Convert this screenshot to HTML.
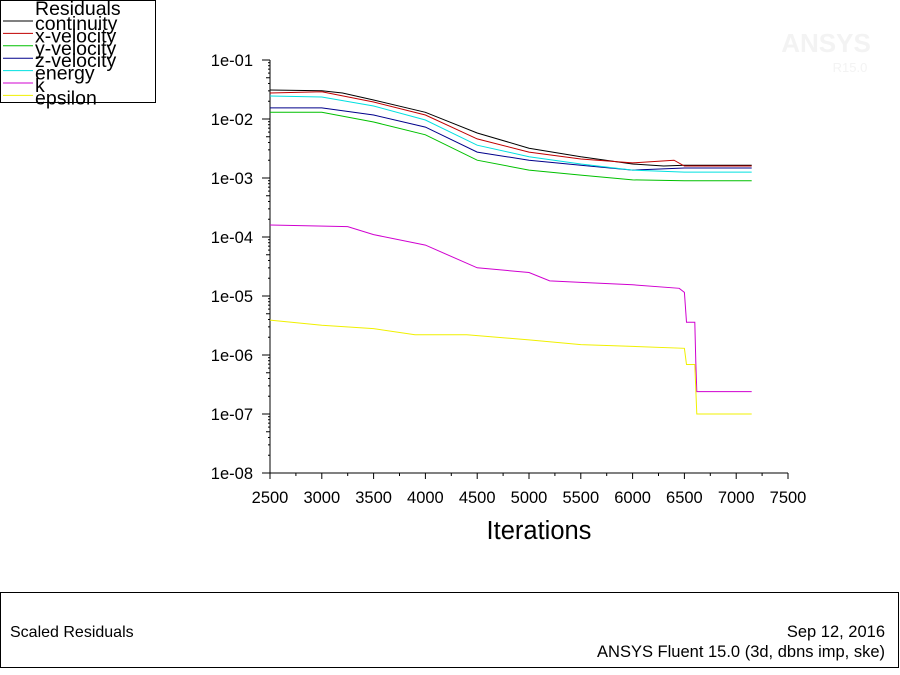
<!DOCTYPE html>
<html><head><meta charset="utf-8"><style>
body{margin:0;background:#fff;font-family:"Liberation Sans",Arial,sans-serif;}
svg{display:block}
</style></head><body>
<svg width="900" height="675" viewBox="0 0 900 675" font-family="Liberation Sans, Arial, sans-serif">
<rect x="0.5" y="0.5" width="155" height="102" fill="#fff" stroke="#000"/>
<g id="legend"></g>
<text x="826" y="52" font-size="26" fill="#f3f3f3" text-anchor="middle" font-weight="bold">ANSYS</text>
<text x="850" y="72" font-size="13" fill="#f3f3f3" text-anchor="middle">R15.0</text>
<g id="axes"></g>
<g id="series"></g>
<text x="539" y="539" font-size="25.5" text-anchor="middle">Iterations</text>
<rect x="0.5" y="592.5" width="898" height="75" fill="none" stroke="#000"/>
<text x="10" y="637" font-size="16">Scaled Residuals</text>
<text x="885" y="637" font-size="16.5" text-anchor="end">Sep 12, 2016</text>
<text x="885" y="657" font-size="16.5" text-anchor="end">ANSYS Fluent 15.0 (3d, dbns imp, ske)</text>
</svg>
<script>
const NS="http://www.w3.org/2000/svg";
const xTicks=[2500,3000,3500,4000,4500,5000,5500,6000,6500,7000,7500];
const yTickExps=[-1,-2,-3,-4,-5,-6,-7,-8];
const yTickLabels=["1e-01","1e-02","1e-03","1e-04","1e-05","1e-06","1e-07","1e-08"];
const seriesNames=["continuity","x-velocity","y-velocity","z-velocity","energy","k","epsilon"];
const seriesColors=["#000000","#c00000","#00c000","#00008b","#00e0e0","#d000d0","#f0f000"];
const itContinuity=[2500,3000,3200,3500,4000,4500,5000,5500,6000,6300,6500,7150];
const valContinuity=[3.1e-2,3.0e-2,2.76e-2,2.1e-2,1.3e-2,5.8e-3,3.2e-3,2.3e-3,1.73e-3,1.6e-3,1.65e-3,1.65e-3];
const itX=[2500,3000,3500,4000,4500,5000,5500,6000,6400,6500,7150];
const valX=[2.76e-2,2.9e-2,1.94e-2,1.17e-2,4.6e-3,2.75e-3,2.1e-3,1.8e-3,2.0e-3,1.6e-3,1.6e-3];
const itY=[2500,3000,3500,4000,4500,5000,5500,6000,6500,7150];
const valY=[1.3e-2,1.3e-2,8.9e-3,5.4e-3,2.0e-3,1.36e-3,1.12e-3,9.3e-4,9.0e-4,9.0e-4];
const itZ=[2500,3000,3500,4000,4500,5000,5500,6000,6500,7150];
const valZ=[1.54e-2,1.54e-2,1.17e-2,7.3e-3,2.75e-3,2.0e-3,1.65e-3,1.36e-3,1.48e-3,1.48e-3];
const itEnergy=[2500,3000,3500,4000,4500,5000,5500,6000,6500,7150];
const valEnergy=[2.45e-2,2.36e-2,1.66e-2,9.6e-3,3.6e-3,2.3e-3,1.73e-3,1.36e-3,1.26e-3,1.26e-3];
const itK=[2500,3250,3500,4000,4500,5000,5200,5500,6000,6450,6500,6520,6600,6610,6620,7150];
const valK=[1.6e-4,1.5e-4,1.1e-4,7.3e-5,3.0e-5,2.5e-5,1.8e-5,1.7e-5,1.55e-5,1.35e-5,1.15e-5,3.6e-6,3.6e-6,7.6e-7,2.4e-7,2.4e-7];
const itEps=[2500,3000,3500,3900,4400,5000,5500,6000,6500,6520,6600,6620,7150];
const valEps=[3.9e-6,3.2e-6,2.8e-6,2.2e-6,2.2e-6,1.8e-6,1.5e-6,1.4e-6,1.3e-6,6.9e-7,6.9e-7,1.0e-7,1.0e-7];
const seriesIts=[itContinuity,itX,itY,itZ,itEnergy,itK,itEps];
const seriesVals=[valContinuity,valX,valY,valZ,valEnergy,valK,valEps];

const X0=270,PXU=0.1036,Y0=60,PXD=59;
function sx(v){return X0+(v-2500)*PXU;}
function sy(v){return Y0+(-1-Math.log10(v))*PXD;}
function mk(tag,attrs,parent){const e=document.createElementNS(NS,tag);for(const k in attrs)e.setAttribute(k,attrs[k]);parent.appendChild(e);return e;}

const axes=document.getElementById('axes');
let l=mk('line',{x1:X0,y1:Y0,x2:X0,y2:sy(1e-8),stroke:'#000'},axes);


l=mk('line',{x1:X0,y1:sy(1e-8),x2:sx(7500),y2:sy(1e-8),stroke:'#000'},axes);


yTickExps.forEach((e,i)=>{
  const y=sy(Math.pow(10,e));
  let t=mk('line',{x1:X0-8,y1:y,x2:X0,y2:y,stroke:'#000'},axes);
  
  
  if(e>-8){for(let m=2;m<10;m++){const ym=sy(m*Math.pow(10,e-1));const len=(m==5)?4:2;
    let mt=mk('line',{x1:X0-len,y1:ym,x2:X0,y2:ym,stroke:'#000'},axes);
    
    }}
  let tx=mk('text',{x:X0-17,y:y+6,'font-size':16.5,'text-anchor':'end'},axes);
  tx.textContent=yTickLabels[i];
  
  
});
xTicks.forEach((v,i)=>{
  const x=sx(v),y=sy(1e-8);
  let t=mk('line',{x1:x,y1:y,x2:x,y2:y+6,stroke:'#000'},axes);
  
  
  if(i<xTicks.length-1){let mt=mk('line',{x1:sx(v+250),y1:y,x2:sx(v+250),y2:y+3,stroke:'#000'},axes);
    
    }
  let tx=mk('text',{x:x,y:y+30,'font-size':16.5,'text-anchor':'middle'},axes);
  tx.textContent=v;
  
  
});
const sg=document.getElementById('series');
seriesNames.forEach((n,i)=>{
  const pts=seriesIts[i].map((it,j)=>sx(it).toFixed(1)+','+sy(seriesVals[i][j]).toFixed(1)).join(' ');
  const p=mk('polyline',{points:pts,fill:'none',stroke:seriesColors[i],'stroke-width':1},sg);
  
  
});
const lg=document.getElementById('legend');
let h=mk('text',{x:35,y:15,'font-size':19.5},lg);
h.textContent='Residuals';


seriesNames.forEach((n,i)=>{
  const y=21+i*12.4;
  const ln=mk('line',{x1:3,y1:y,x2:33,y2:y,stroke:seriesColors[i]},lg);
  
  
  const t=mk('text',{x:35,y:y+9,'font-size':19.5},lg);
  t.textContent=n;
  
  
});
</script>
</body></html>
